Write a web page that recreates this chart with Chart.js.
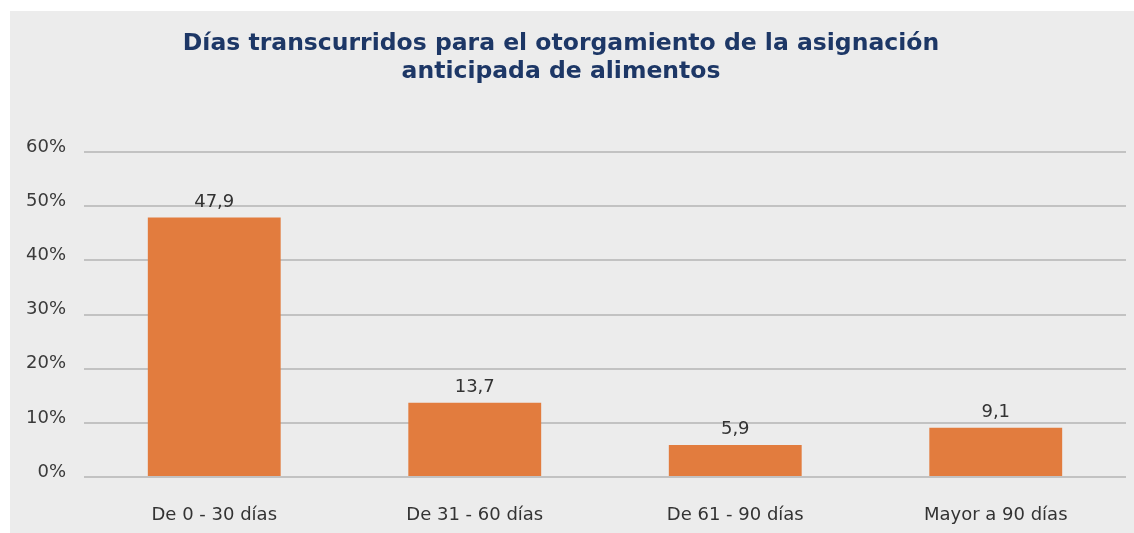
<!DOCTYPE html>
<html>
<head>
<meta charset="utf-8">
<script src="https://cdn.jsdelivr.net/npm/chart.js@4.4.0/dist/chart.umd.min.js"></script>
<style>
  body { margin: 0; background: #fff; }
  #panel { position: absolute; left: 10px; top: 11px; width: 1124px; height: 522px; background: #ececec; }
  #title { position: absolute; left: 0; top: 17px; width: 1102px; text-align: center;
           font: bold 23.5px "DejaVu Sans", sans-serif; line-height: 28px; color: #1d3766; }
  canvas { position: absolute; left: 0; top: 0; }
</style>
</head>
<body>
<div id="panel">
  <canvas id="myBarChart" width="1124" height="522"></canvas>
  <div id="title">Días transcurridos para el otorgamiento de la asignación<br>anticipada de alimentos</div>
</div>
<script>
// datos del gráfico
var categorias = ['De 0 - 30 días', 'De 31 - 60 días', 'De 61 - 90 días', 'Mayor a 90 días'];
var porcentajes = [47.9, 13.7, 5.9, 9.1];
var ticksY = [0, 10, 20, 30, 40, 50, 60];

// etiquetas de valor encima de cada barra
var valueLabels = {
  id: 'valueLabels',
  afterDatasetsDraw: function(chart) {
    var ctx = chart.ctx;
    var meta = chart.getDatasetMeta(0);
    ctx.save();
    ctx.font = '18px "DejaVu Sans", sans-serif';
    ctx.fillStyle = '#333333';
    ctx.textAlign = 'center';
    ctx.textBaseline = 'alphabetic';
    meta.data.forEach(function(bar, i) {
      var txt = porcentajes[i].toFixed(1).replace('.', ',');
      ctx.fillText(txt, bar.x, bar.y - 11);
    });
    ctx.restore();
  }
};

var barChart = document.getElementById('myBarChart').getContext('2d');
let myChart = new Chart(barChart, {
  type: 'bar',
  data: {
    labels: categorias,
    datasets: [{
      data: porcentajes,
      backgroundColor: '#e27c3e',
      borderWidth: 0,
      barPercentage: 0.51,
      categoryPercentage: 1
    }]
  },
  options: {
    responsive: false,
    animation: false,
    layout: { padding: { top: 141, right: 8, left: 0, bottom: 0 } },
    plugins: {
      legend: { display: false },
      title: { display: false },
      tooltip: { enabled: false }
    },
    scales: {
      x: {
        grid: { display: false, drawTicks: false },
        border: { display: false },
        ticks: { color: '#333333', padding: 28, font: { family: 'DejaVu Sans', size: 18 } },
        afterFit: function(scale) { scale.height = 56; }
      },
      y: {
        min: ticksY[0],
        max: ticksY[ticksY.length - 1],
        afterBuildTicks: function(scale) {
          scale.ticks = ticksY.map(function(v) { return { value: v }; });
        },
        grid: { color: '#c2c2c2', lineWidth: 2, drawTicks: false },
        border: { display: false },
        ticks: {
          color: '#3a3a3a',
          padding: 18,
          labelOffset: -5,
          font: { family: 'DejaVu Sans', size: 18 },
          callback: function(v) { return v + '%'; }
        },
        afterFit: function(scale) { scale.width = 74; }
      }
    }
  },
  plugins: [valueLabels]
});
</script>
</body>
</html>
